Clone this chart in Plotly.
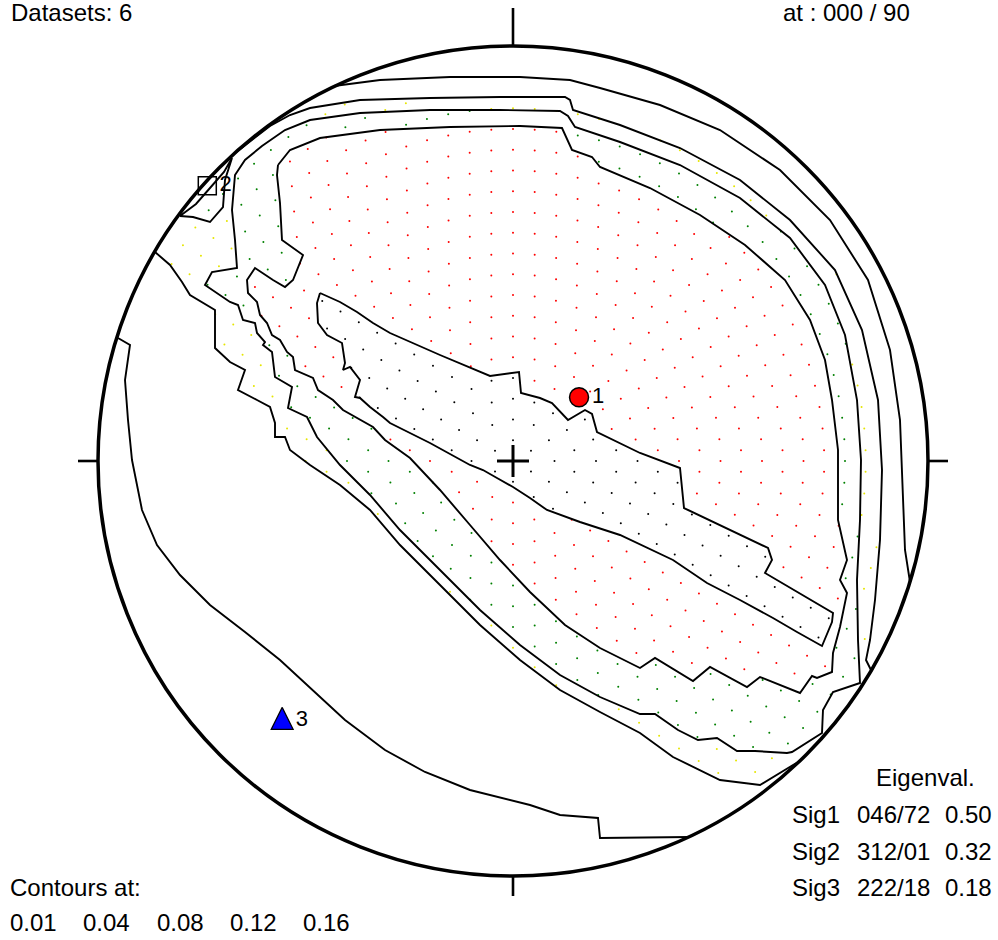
import numpy as np
import plotly.graph_objects as go

# ---------------- data ----------------
N_DATASETS = 6
VIEW_AT = "000 / 90"
AXIS_LABELS = ["1", "2", "3"]
AXIS_TREND = [46, 312, 222]
AXIS_PLUNGE = [72, 1, 18]
EIGEN_NAMES = ["Sig1", "Sig2", "Sig3"]
EIGEN_ORIENT = ["046/72", "312/01", "222/18"]
EIGEN_VALUES = [0.50, 0.32, 0.18]
CONTOUR_LEVELS = [0.01, 0.04, 0.08, 0.12, 0.16]

# contour vertices digitised in net units (primitive radius = 415, origin = centre, +y = north)
NET_UNITS = 415.0
C16_X = [-193, -173, -156, -140, -123, -73, -23, 6, 8, 27, 39, 55, 72, 79, 84, 127, 167, 171, 255, 259, 252, 284, 320, 319, 309,
         284, 260, 227, 194, 160, 107, 67, 34, 17, 0, -16, -30, -43, -83, -123, -130, -143, -153, -158, -153, -163, -170, -168, -171, -186, -195, -196]
C16_Y = [168, 159, 149, 138, 128, 106, 85, 89, 68, 63, 58, 41, 51, 47, 29, 8, -7, -47, -87, -99, -112, -131, -152, -161, -185,
         -171, -157, -139, -122, -99, -74, -61, -49, -37, -26, -17, -9, -4, 18, 38, 44, 54, 63, 64, 81, 94, 91, 98, 118, 126, 138, 158]

C12_X = [-235, -223, -193, -133, -63, 7, 49, 59, 79, 87, 137, 187, 232, 272, 297, 312, 319, 325, 325, 334, 327, 334, 327, 320, 319,
         304, 299, 287, 247, 234, 197, 180, 142, 127, 87, 52, 17, -13, -43, -73, -103, -128, -140, -153, -170, -180, -195, -200, -218,
         -220, -226, -233, -241, -246, -253, -256, -265, -266, -258, -240, -228, -220, -210, -231, -233, -236]
C12_Y = [296, 311, 323, 331, 334, 335, 333, 311, 304, 294, 273, 246, 216, 181, 141, 101, 61, 11, -59, -99, -119, -132, -166, -192, -211,
         -217, -215, -232, -216, -226, -206, -220, -197, -207, -187, -164, -131, -99, -64, -29, 3, 21, 34, 41, 51, 61, 71, 83, 91,
         104, 109, 121, 126, 138, 146, 159, 168, 181, 193, 181, 174, 181, 206, 221, 258, 286]

C08_X = [-278, -281, -278, -268, -251, -228, -203, -153, -83, -13, 47, 55, 62, 107, 167, 227, 277, 312, 332, 344, 348, 347, 344, 345,
         347, 334, 320, 310, 309, 279, 274, 242, 224, 204, 185, 165, 142, 127, 87, 47, 7, -33, -73, -113, -143, -173, -196, -206,
         -225, -221, -238, -241, -250, -248, -256, -258, -270, -275, -283, -308, -301, -276]
C08_Y = [221, 251, 286, 301, 315, 331, 341, 348, 351, 351, 350, 345, 334, 319, 296, 263, 223, 176, 126, 61, 1, -59, -119, -179,
         -222, -226, -231, -249, -272, -291, -292, -290, -290, -277, -279, -269, -253, -253, -236, -214, -184, -149, -109, -69, -34,
         -4, 24, 44, 53, 74, 84, 109, 116, 119, 128, 138, 141, 156, 159, 176, 189, 193]

# 0.08 island on the primitive next to Sig2
C08B_X = [-333, -317, -303, -289, -281, -288, -290, -303, -320]
C08B_Y = [245, 257, 273, 289, 303, 281, 254, 239, 244]

# 0.04: arc along the NE side (primitive to primitive) and arc along the SW side
C04A_X = [-283, -258, -243, -223, -203, -153, -83, -13, 52, 57, 60, 107, 167, 227, 277, 322, 349, 365, 369, 367, 362, 357,
          353, 358]
C04A_Y = [304, 323, 335, 346, 353, 361, 363, 364, 364, 361, 351, 336, 313, 281, 241, 191, 131, 61, -9, -79, -139, -179, -199, -209]
C04B_X = [287, 280, 247, 207, 160, 127, 87, 47, 7, -33, -73, -113, -143, -173, -203, -223, -228, -238, -238, -243, -256, -275,
          -268, -283, -298, -298, -323, -331, -343, -358]
C04B_Y = [-300, -304, -324, -319, -296, -272, -251, -229, -199, -164, -124, -84, -49, -24, -4, 11, 24, 24, 38, 54, 61, 71, 91,
          99, 113, 151, 166, 179, 196, 209]

# 0.01: SW arc and NE arc (both primitive to primitive)
C01A_X = [-395, -383, -388, -385, -381, -371, -356, -333, -303, -268, -233, -201, -168, -128, -88, -43, 17, 47, 85, 87, 177]
C01A_Y = [123, 116, 81, 41, 1, -49, -84, -114, -144, -171, -199, -229, -259, -289, -311, -329, -344, -354, -357, -377, -376]
C01B_X = [-179, -133, -63, 7, 57, 87, 147, 207, 267, 317, 355, 377, 387, 390, 392, 397]
C01B_Y = [375, 381, 384, 384, 381, 373, 356, 331, 291, 241, 181, 111, 41, -29, -89, -121]

# ---------------- helpers ----------------
def net(xs, ys):
    return np.asarray(xs, float) / NET_UNITS, np.asarray(ys, float) / NET_UNITS

def equal_area(trend, plunge):
    t = np.radians(np.asarray(trend, float))
    p = np.radians(np.asarray(plunge, float))
    r = np.sqrt(2.0) * np.sin((np.pi / 2 - p) / 2)
    return r * np.sin(t), r * np.cos(t)

def inside(px, py, xs, ys):
    res = np.zeros(px.shape, bool)
    x2 = np.roll(xs, -1)
    y2 = np.roll(ys, -1)
    for i in range(len(xs)):
        xi, yi, xj, yj = xs[i], ys[i], x2[i], y2[i]
        if yi == yj:
            continue
        cond = ((yi > py) != (yj > py)) & (px < (xj - xi) * (py - yi) / (yj - yi) + xi)
        res ^= cond
    return res

c16 = net(C16_X, C16_Y)
c12 = net(C12_X, C12_Y)
c08 = net(C08_X, C08_Y)
c08b = net(C08B_X, C08B_Y)
c04a = net(C04A_X, C04A_Y)
c04b = net(C04B_X, C04B_Y)
c01a = net(C01A_X, C01A_Y)
c01b = net(C01B_X, C01B_Y)
# region >= 0.04 closed along the primitive
r04 = (np.concatenate([c04a[0], c04b[0]]), np.concatenate([c04a[1], c04b[1]]))

# counting grid (concentric rings, 6k nodes on ring k)
gx, gy = [], []
for k in range(1, 21):
    n = 6 * k
    ang = np.radians(90 + np.arange(n) * 360.0 / n)
    gx.extend(k / 20.0 * np.cos(ang))
    gy.extend(k / 20.0 * np.sin(ang))
gx = np.array(gx)
gy = np.array(gy)
in16 = inside(gx, gy, *c16)
in12 = inside(gx, gy, *c12)
in08 = inside(gx, gy, *c08) | inside(gx, gy, *c08b)
in04 = inside(gx, gy, *r04)

fig = go.Figure()

dot_sets = [
    (in16, "#000000"),
    (in12 & ~in16, "#ff0000"),
    (in08 & ~in12 & ~in16, "#008000"),
    (in04 & ~in08 & ~in12 & ~in16, "#e6e600"),
]
for mask, col in dot_sets:
    fig.add_trace(go.Scatter(x=gx[mask], y=gy[mask], mode="markers",
                             marker=dict(size=2, color=col, line=dict(width=0)),
                             hoverinfo="skip"))

LINE = dict(color="black", width=1.9)
for cx, cy in [c16, c12, c08, c08b]:
    fig.add_trace(go.Scatter(x=np.append(cx, cx[0]), y=np.append(cy, cy[0]), mode="lines",
                             line=LINE, hoverinfo="skip"))
for cx, cy in [c04a, c04b, c01a, c01b]:
    fig.add_trace(go.Scatter(x=cx, y=cy, mode="lines", line=LINE, hoverinfo="skip"))

# principal axes
ax_x, ax_y = equal_area(AXIS_TREND, AXIS_PLUNGE)
LABEL_FONT = dict(family="Liberation Sans, Arial, sans-serif", size=22, color="black")
# Sig1: red circle
fig.add_trace(go.Scatter(x=[ax_x[0]], y=[ax_y[0]], mode="markers+text", text=[AXIS_LABELS[0]],
                         textposition="middle right", textfont=LABEL_FONT,
                         marker=dict(symbol="circle", size=19, color="#ff0000",
                                     line=dict(color="black", width=1.5)), hoverinfo="skip"))
# Sig2: open square
fig.add_trace(go.Scatter(x=[ax_x[1]], y=[ax_y[1]], mode="markers+text", text=[AXIS_LABELS[1]],
                         textposition="middle right", textfont=LABEL_FONT,
                         marker=dict(symbol="square-open", size=18, color="black",
                                     line=dict(color="black", width=1.5)), hoverinfo="skip"))
# Sig3: blue triangle (drawn as a polygon around the projected point)
hw, up, dn = 11 / NET_UNITS, 10 / NET_UNITS, 12 / NET_UNITS
tx = ax_x[2] + np.array([0, hw, -hw, 0])
ty = ax_y[2] + np.array([up, -dn, -dn, up])
fig.add_trace(go.Scatter(x=tx, y=ty, mode="lines", fill="toself", fillcolor="#0000ff",
                         line=dict(color="black", width=1.2), hoverinfo="skip"))
fig.add_trace(go.Scatter(x=[ax_x[2]], y=[ax_y[2] - 3 / NET_UNITS], mode="markers+text", text=[AXIS_LABELS[2]],
                         textposition="middle right", textfont=LABEL_FONT,
                         marker=dict(size=20, color="rgba(0,0,0,0)"), hoverinfo="skip"))

# primitive circle, ticks, centre cross
shapes = [dict(type="circle", xref="x", yref="y", x0=-1, y0=-1, x1=1, y1=1,
               line=dict(color="black", width=3.5))]
tick = 20 / NET_UNITS
north = 38 / NET_UNITS
TK = dict(color="black", width=2.6)
shapes += [
    dict(type="line", x0=0, x1=0, y0=1, y1=1 + north, line=TK),
    dict(type="line", x0=0, x1=0, y0=-1, y1=-1 - tick, line=TK),
    dict(type="line", x0=-1, x1=-1 - tick, y0=0, y1=0, line=TK),
    dict(type="line", x0=1, x1=1 + tick, y0=0, y1=0, line=TK),
]
cr = 16 / NET_UNITS
CX = dict(color="black", width=3)
shapes += [
    dict(type="line", x0=-cr, x1=cr, y0=0, y1=0, line=CX),
    dict(type="line", x0=0, x1=0, y0=-cr, y1=cr, line=CX),
]

W, H = 998, 940
FONT = dict(family="Liberation Sans, Arial, Helvetica, sans-serif", size=24, color="black")

def ann(text, px, py, xanchor="left"):
    return dict(text=text, x=px / W, y=1 - py / H, xref="paper", yref="paper",
                xanchor=xanchor, yanchor="middle", showarrow=False, font=FONT)

annotations = [
    ann(f"Datasets: {N_DATASETS}", 9, 12),
    ann(f"at : {VIEW_AT}", 781, 12),
    ann("Contours at:", 8, 887),
    ann("Eigenval.", 874, 777),
]
lev_x = [8, 81, 155, 228, 301]
for lx, lv in zip(lev_x, CONTOUR_LEVELS):
    annotations.append(ann(f"{lv:.2f}", lx, 922))
row_y = [814, 851, 887]
for ry, nm, ori, ev in zip(row_y, EIGEN_NAMES, EIGEN_ORIENT, EIGEN_VALUES):
    annotations.append(ann(nm, 790, ry))
    annotations.append(ann(ori, 855, ry))
    annotations.append(ann(f"{ev:.2f}", 943, ry))

cx0, cy0 = 513, 461
fig.update_layout(
    width=W, height=H, margin=dict(l=0, r=0, t=0, b=0),
    paper_bgcolor="white", plot_bgcolor="white", showlegend=False,
    xaxis=dict(range=[-cx0 / NET_UNITS, (W - cx0) / NET_UNITS], visible=False, fixedrange=True),
    yaxis=dict(range=[-(H - cy0) / NET_UNITS, cy0 / NET_UNITS], visible=False, fixedrange=True),
    shapes=shapes, annotations=annotations,
)
fig.write_html("out.html", config={"displayModeBar": False},
               post_script="document.body.style.margin='0';document.body.style.overflow='hidden';")
